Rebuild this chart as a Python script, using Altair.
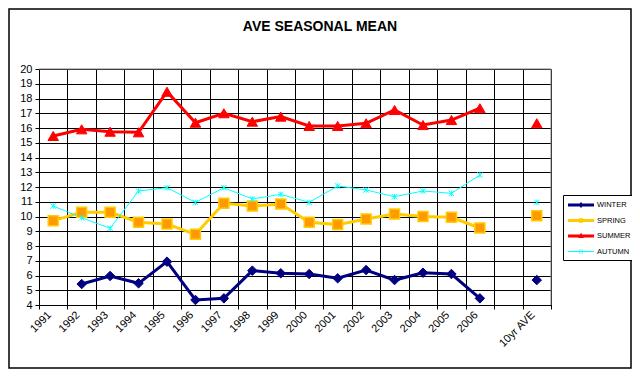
import altair as alt
import pandas as pd

title_text = "AVE SEASONAL MEAN"
years = ["1991", "1992", "1993", "1994", "1995", "1996", "1997", "1998",
         "1999", "2000", "2001", "2002", "2003", "2004", "2005", "2006"]
gap_label = " "
ave_label = "10yr AVE"
categories = years + [gap_label, ave_label]

seasons = ["WINTER", "SPRING", "SUMMER", "AUTUMN"]

winter = [None, 5.42, 5.97, 5.47, 6.94, 4.34, 4.45, 6.33, 6.15, 6.1,
          5.81, 6.37, 5.69, 6.19, 6.1, 4.45]
spring = [9.72, 10.28, 10.28, 9.61, 9.49, 8.79, 10.9, 10.71, 10.85, 9.61,
          9.45, 9.83, 10.17, 10.0, 9.95, 9.22]
summer = [15.46, 15.91, 15.75, 15.71, 18.46, 16.36, 17.0, 16.43, 16.77, 16.14,
          16.14, 16.32, 17.22, 16.2, 16.54, 17.34]
autumn = [10.71, 9.92, 9.2, 11.73, 11.95, 10.96, 11.95, 11.19, 11.5, 10.96,
          12.07, 11.8, 11.34, 11.73, 11.57, 12.81]
averages = [5.69, 10.05, 16.32, 10.96]

line_colors = ["#000080", "#FFCC00", "#FF0000", "#00FFFF"]
marker_fills = ["#000080", "#FF9900", "#FF0000", None]
line_widths = [3, 3, 3, 1]
marker_shapes = ["diamond", "square", "triangle-up",
                 "M-1,-1L1,1M1,-1L-1,1M0,-1L0,1"]
marker_sizes = [90, 100, 110, 30]
marker_strokes = [1, 1.5, 1, 1]

# legend symbols: a line segment with a small marker (path units: r = 5 px)
legend_paths = [
    "M-1,-0.3L4.2,-0.3L4.2,0.3L-1,0.3Z M1.6,-0.6L2.1,0L1.6,0.6L1.1,0Z",
    "M-1,-0.3L4.2,-0.3L4.2,0.3L-1,0.3Z M1.2,-0.45L2.0,-0.45L2.0,0.45L1.2,0.45Z",
    "M-1,-0.3L4.2,-0.3L4.2,0.3L-1,0.3Z M1.6,-0.7L2.15,0.4L1.05,0.4Z",
    "M-1,-0.1L4.2,-0.1L4.2,0.1L-1,0.1Z M1.3,-0.45L1.45,-0.45L1.45,0.45L1.3,0.45Z M1.75,-0.45L1.9,-0.45L1.9,0.45L1.75,0.45Z",
]

rows = []
for s, vals, ave in zip(seasons, [winter, spring, summer, autumn], averages):
    for y, v in zip(years, vals):
        if v is not None:
            rows.append({"season": s, "cat": y, "value": v, "kind": "year"})
    rows.append({"season": s, "cat": ave_label, "value": ave, "kind": "ave"})
df = pd.DataFrame(rows)

W, H = 512, 236
FONT = "Liberation Sans"

xscale = alt.Scale(type="band", domain=categories, paddingInner=0, paddingOuter=0)
yscale = alt.Scale(domain=[4, 20], nice=False, zero=False)

x_enc = alt.X("cat:N", scale=xscale, title=None,
              axis=alt.Axis(labelAngle=315, labelAlign="right", labelBaseline="middle",
                            labelFontSize=11, labelColor="black", labelFont=FONT,
                            tickBand="extent", grid=True, gridColor="black", gridWidth=1,
                            tickColor="black", tickSize=4, domainColor="black",
                            labelPadding=4, labelOffset=-4, labelOverlap=False))
y_enc = alt.Y("value:Q", scale=yscale, title=None,
              axis=alt.Axis(values=list(range(4, 21)), labelFontSize=11, labelColor="black",
                            labelFont=FONT, grid=True, gridColor="black", gridWidth=1,
                            tickColor="black", tickSize=4, domainColor="black",
                            labelPadding=3))

legend = alt.Legend(
    title=None, orient="none", legendX=524, legendY=126, padding=5,
    strokeColor="black", fillColor="white", labelFont=FONT, labelFontSize=7.5,
    labelColor="black", symbolSize=100, labelOffset=19, rowPadding=6.5,
    symbolStrokeWidth=0, symbolOpacity=1,
)

base = alt.Chart(df)

layers = []
for i, s in enumerate(seasons):
    sub = base.transform_filter(alt.datum.season == s)
    layers.append(
        sub.transform_filter(alt.datum.kind == "year").mark_line(
            color=line_colors[i], strokeWidth=line_widths[i]
        ).encode(x=x_enc, y=y_enc)
    )
for i, s in enumerate(seasons):
    sub = base.transform_filter(alt.datum.season == s)
    kw = dict(shape=marker_shapes[i], size=marker_sizes[i], stroke=line_colors[i],
              strokeWidth=marker_strokes[i], opacity=1)
    if marker_fills[i] is not None:
        kw.update(filled=True, fill=marker_fills[i])
    else:
        kw.update(filled=False)
    layers.append(sub.mark_point(**kw).encode(x=x_enc, y=y_enc))

legend_layer = base.transform_filter("false").mark_point(filled=True, opacity=1).encode(
    x=x_enc, y=y_enc,
    color=alt.Color("season:N", scale=alt.Scale(domain=seasons, range=line_colors),
                    legend=legend, sort=seasons),
    shape=alt.Shape("season:N", scale=alt.Scale(domain=seasons, range=legend_paths),
                    legend=legend, sort=seasons),
)

one = pd.DataFrame({"t": [title_text]})
title = alt.Chart(one).mark_text(font=FONT, fontSize=14, fontWeight="bold", color="black",
                                 align="center", baseline="alphabetic").encode(
    text="t:N", x=alt.value(281), y=alt.value(-38))

top_rule = alt.Chart(one).mark_rule(color="#808080", strokeWidth=1).encode(
    x=alt.value(0), x2=alt.value(W), y=alt.value(0))
right_rule = alt.Chart(one).mark_rule(color="#808080", strokeWidth=1).encode(
    x=alt.value(W), y=alt.value(0), y2=alt.value(H))
border = alt.Chart(one).mark_rect(fill="transparent", stroke="black", strokeWidth=1.5).encode(
    x=alt.value(-30), x2=alt.value(W + 80), y=alt.value(-60), y2=alt.value(H + 63))

chart = alt.layer(border, *layers, legend_layer, top_rule, right_rule, title).properties(
    width=W, height=H,
    autosize=alt.AutoSizeParams(type="none"),
    padding={"left": 31, "top": 61, "right": 81, "bottom": 64},
).configure_view(stroke=None).configure(font=FONT)

chart.save("out.html", embed_options={"renderer": "svg", "actions": False})
